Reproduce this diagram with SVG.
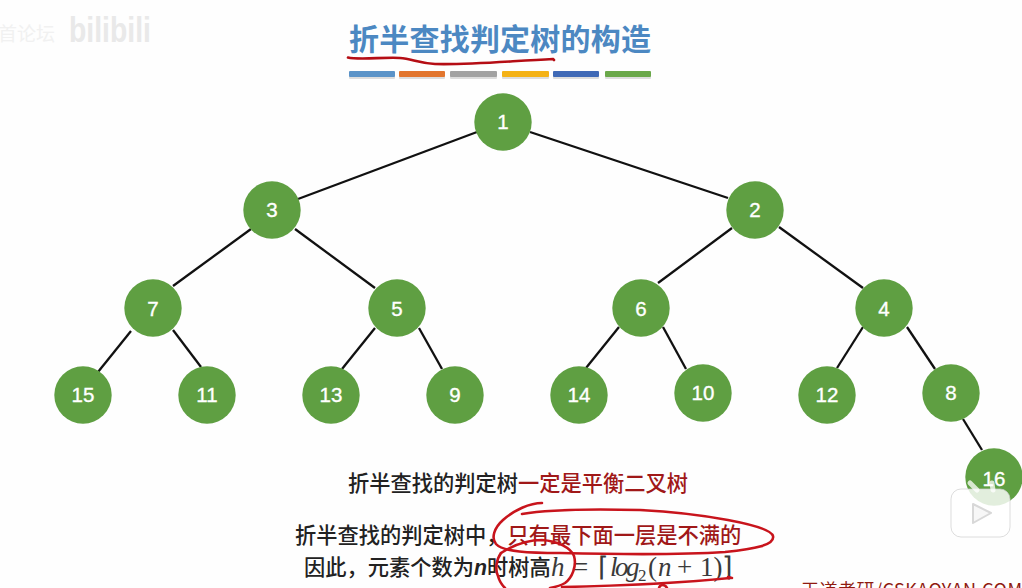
<svg xmlns="http://www.w3.org/2000/svg" width="1022" height="588" viewBox="0 0 1022 588">
<style>
.n circle{fill:#5f9f42}
.n text{font:400 20.5px "Liberation Sans","Noto Sans",sans-serif;fill:#fff;stroke:#fff;stroke-width:.35;text-anchor:middle}
#connectors line{stroke:#111;stroke-width:2.3}
.t{font:500 21.25px "Noto Sans CJK SC",sans-serif;fill:#222}
.r{fill:#a01818}
.f{font:27px "Liberation Serif",serif;fill:#3a3a3a}
.i{font-style:italic}
.ink{fill:none;stroke:#c8141c;stroke-width:2.6;stroke-linecap:round;stroke-linejoin:round}
</style>
<rect width="1022" height="588" fill="#fefefe"/>
<g id="watermark">
<text x="-2" y="41" font-family="'Noto Sans CJK SC',sans-serif" font-size="19" fill="#f1f1f1">首论坛</text>
<text x="69" y="42" font-family="'Liberation Sans',sans-serif" font-size="35" font-weight="700" fill="#e9e9e9" textLength="82" lengthAdjust="spacingAndGlyphs">bilibili</text>
</g>
<g id="title">
<text x="349" y="50" font-family="'Noto Sans CJK SC',sans-serif" font-size="30" font-weight="700" fill="#4c88c2" textLength="302">折半查找判定树的构造</text>
<rect x="349" y="73" width="46" height="6" rx="1" fill="#dddddd"/>
<rect x="399" y="73" width="46" height="6" rx="1" fill="#dddddd"/>
<rect x="450" y="73" width="47" height="6" rx="1" fill="#dddddd"/>
<rect x="502" y="73" width="47" height="6" rx="1" fill="#dddddd"/>
<rect x="553" y="73" width="46" height="6" rx="1" fill="#dddddd"/>
<rect x="605" y="73" width="46" height="6" rx="1" fill="#dddddd"/>
<rect x="349" y="71" width="46" height="6" rx="1" fill="#5b93c8"/>
<rect x="399" y="71" width="46" height="6" rx="1" fill="#e2752d"/>
<rect x="450" y="71" width="47" height="6" rx="1" fill="#a2a2a2"/>
<rect x="502" y="71" width="47" height="6" rx="1" fill="#f4b216"/>
<rect x="553" y="71" width="46" height="6" rx="1" fill="#3f69b6"/>
<rect x="605" y="71" width="46" height="6" rx="1" fill="#6aa84a"/>
<path d="M348 57.500C358 60 385 57 400 58C412 59 418 63 435 64C470 65 510 61 553 59L554 60" fill="none" stroke="#b50d14" stroke-width="2.600" stroke-linecap="round"/>
</g>
<g id="connectors">
<line x1="477" y1="132" x2="298" y2="199"/>
<line x1="530" y1="132" x2="728" y2="198"/>
<line x1="251" y1="229" x2="173" y2="286"/>
<line x1="295" y1="229" x2="375" y2="288"/>
<line x1="732" y1="228" x2="658" y2="283"/>
<line x1="779" y1="227" x2="863" y2="288"/>
<line x1="131" y1="331" x2="98" y2="372"/>
<line x1="173" y1="330" x2="201" y2="367"/>
<line x1="375" y1="328" x2="342" y2="369"/>
<line x1="419" y1="328" x2="442" y2="369"/>
<line x1="619" y1="327" x2="586" y2="368"/>
<line x1="663" y1="327" x2="686" y2="369"/>
<line x1="863" y1="327" x2="837" y2="368"/>
<line x1="907" y1="327" x2="935" y2="369"/>
<line x1="963" y1="419" x2="982" y2="450"/>
</g>
<g id="n1" class="n"><circle cx="503" cy="122" r="28.700"/><text x="503" y="129">1</text></g>
<g id="n3" class="n"><circle cx="272" cy="210" r="28.700"/><text x="272" y="217">3</text></g>
<g id="n2" class="n"><circle cx="755" cy="210" r="28.700"/><text x="755" y="217">2</text></g>
<g id="n7" class="n"><circle cx="153" cy="308" r="28.700"/><text x="153" y="316">7</text></g>
<g id="n5" class="n"><circle cx="397" cy="308" r="28.700"/><text x="397" y="316">5</text></g>
<g id="n6" class="n"><circle cx="641" cy="308" r="28.700"/><text x="641" y="316">6</text></g>
<g id="n4" class="n"><circle cx="884" cy="308" r="28.700"/><text x="884" y="316">4</text></g>
<g id="n15" class="n"><circle cx="83" cy="395" r="28.700"/><text x="83" y="402">15</text></g>
<g id="n11" class="n"><circle cx="207" cy="395" r="28.700"/><text x="207" y="402">11</text></g>
<g id="n13" class="n"><circle cx="331" cy="395" r="28.700"/><text x="331" y="402">13</text></g>
<g id="n9" class="n"><circle cx="455" cy="395" r="28.700"/><text x="455" y="402">9</text></g>
<g id="n14" class="n"><circle cx="579" cy="395" r="28.700"/><text x="579" y="402">14</text></g>
<g id="n10" class="n"><circle cx="703" cy="393" r="28.700"/><text x="703" y="400">10</text></g>
<g id="n12" class="n"><circle cx="827" cy="395" r="28.700"/><text x="827" y="402">12</text></g>
<g id="n8" class="n"><circle cx="951" cy="393" r="28.700"/><text x="951" y="400">8</text></g>
<g id="n16" class="n"><circle cx="994" cy="477" r="28.700"/><text x="994" y="486">16</text></g>
<g id="player">
<rect x="951" y="489" width="59" height="48" rx="10" fill="#fff" fill-opacity="0.82" stroke="#cfcfcf" stroke-opacity="0.7"/>
<path d="M970 483L977 490M993 490L992 483" stroke="#fff" stroke-opacity="0.75" stroke-width="5" stroke-linecap="round"/>
<path d="M973 504L991 513L973 523Z" fill="#f7f7f7" stroke="#d8d8d8" stroke-width="2" stroke-linejoin="round"/>
</g>
<g id="notes">
<text class="t" x="348" y="491">折半查找的判定树<tspan class="r">一定是平衡二叉树</tspan></text>
<text class="t" x="295" y="543">折半查找的判定树中，<tspan class="r">只有最下面一层是不满的</tspan></text>
<text class="t" x="304" y="575">因此，元素个数为<tspan font-family="'Liberation Sans',sans-serif" font-weight="700" font-style="italic">n</tspan>时树高</text>
<text class="f" x="551" y="576"><tspan class="i">h</tspan><tspan x="573">=</tspan><tspan x="598">⌈</tspan><tspan class="i" x="610" style="letter-spacing:-2.500px">log</tspan><tspan x="638" dy="5" style="font-size:17px">2</tspan><tspan x="648" dy="-5">(</tspan><tspan class="i" x="658">n</tspan><tspan x="677">+</tspan><tspan x="700">1)</tspan><tspan x="722">⌉</tspan></text>
<text x="801" y="597" font-family="'Noto Sans CJK SC',sans-serif" font-size="18" fill="#8f1a10" textLength="221">王道考研/CSKAOYAN.COM</text>
</g>
<g id="ink">
<path class="ink" d="M542 503C530 503 514 510 503 520C494 528 491 538 496 544C503 552 530 553 560 553C600 554 680 555 725 552C755 549 775 545 773 536C770 525 700 513 640 510C600 509 550 509 522 514"/>
<path class="ink" d="M501 553C515 544 530 540 542 540C558 541 571 548 574 556C577 566 572 578 565 583C560 586 555 587 550 588"/>
<path class="ink" d="M501 553C496 560 495 570 498 576C499 580 502 585 505 588"/>
<path class="ink" d="M562 587C610 586 680 583 730 578"/>
<path class="ink" d="M728 577L732 578"/>
<path class="ink" d="M659 588C660 584 665 584 667 588"/>
</g>
</svg>
